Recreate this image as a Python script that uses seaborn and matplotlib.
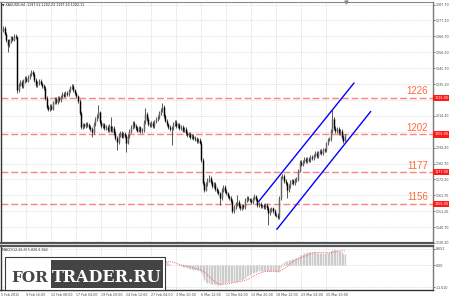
import numpy as np
import pandas as pd
import matplotlib
matplotlib.use("Agg")
import matplotlib.pyplot as plt
import matplotlib.transforms as mtransforms
from matplotlib.patches import Rectangle
import seaborn as sns

# ---------------- data ----------------
closes = [
    1271.0, 1272.0, 1268.5, 1264.0, 1261.0, 1263.5, 1266.0, 1264.5, 1267.0, 1266.0,
    1231.0, 1235.0, 1236.5, 1234.0, 1237.0, 1239.5, 1237.5, 1240.0, 1241.5, 1243.0,
    1242.0, 1238.0, 1234.5, 1236.0, 1237.0, 1235.5, 1234.0, 1232.5, 1226.0, 1220.0,
    1218.5, 1221.0, 1219.0, 1223.0, 1225.5, 1223.5, 1226.0, 1224.5, 1227.0, 1228.5,
    1227.5, 1229.5, 1228.5, 1231.0, 1233.0, 1234.0, 1231.0, 1229.0, 1227.0, 1224.0,
    1216.0, 1207.0, 1208.5, 1207.5, 1209.0, 1208.0, 1207.0, 1205.5, 1203.5, 1209.0,
    1212.0, 1214.0, 1216.5, 1210.0, 1207.5, 1208.5, 1206.0, 1207.0, 1205.0, 1207.5,
    1204.5, 1206.0, 1203.0, 1199.5, 1197.0, 1201.5, 1203.0, 1200.5, 1202.5, 1201.0,
    1196.5, 1201.0, 1204.0, 1207.0, 1209.5, 1207.5, 1206.0, 1204.5, 1206.5, 1204.0,
    1205.0, 1210.0, 1215.5, 1212.0, 1209.0, 1208.0, 1209.5, 1207.5, 1210.5, 1212.0,
    1213.5, 1216.0, 1218.0, 1220.0, 1214.0, 1211.0, 1208.5, 1207.0, 1205.5, 1206.0,
    1209.0, 1210.0, 1207.5, 1208.5, 1206.0, 1207.0, 1204.5, 1205.5, 1203.0, 1201.5,
    1202.0, 1200.0, 1201.0, 1199.5, 1199.0, 1197.5, 1198.5, 1196.5, 1185.0, 1170.0,
    1165.5, 1169.0, 1172.0, 1173.0, 1170.5, 1168.0, 1169.0, 1166.0, 1164.5, 1163.0,
    1160.0, 1165.0, 1167.0, 1164.5, 1163.0, 1161.0, 1160.0, 1158.0, 1151.5, 1154.0,
    1156.0, 1157.5, 1154.5, 1153.5, 1155.0, 1154.0, 1158.5, 1160.0, 1159.0, 1158.5,
    1157.0, 1159.5, 1161.0, 1159.0, 1155.5, 1156.0, 1154.5, 1155.0, 1154.0, 1155.5,
    1153.5, 1150.0, 1152.0, 1153.0, 1151.5, 1149.0, 1148.5, 1147.5, 1160.0, 1173.5,
    1174.5, 1171.0, 1169.5, 1165.0, 1168.0, 1170.5, 1171.5, 1170.0, 1172.0, 1172.5,
    1178.0, 1183.5, 1182.0, 1184.0, 1185.5, 1184.5, 1186.0, 1185.0, 1187.0, 1186.5,
    1188.0, 1189.5, 1187.5, 1190.0, 1191.0, 1189.5, 1192.0, 1191.5, 1196.0, 1198.5,
    1199.0, 1204.0, 1212.0, 1206.0, 1204.0, 1205.5, 1203.0, 1204.5, 1200.0, 1197.5,
    1202.11,
]
first_open = 1270.0
last_open = 1197.52
spike_high_bars = [0, 19, 45, 62, 70, 92, 103, 133, 142, 151, 162, 180, 212, 220]
spike_high_vals = [1273.5, 1244.5, 1235.5, 1221.5, 1213.5, 1219.5, 1222.8, 1175.0,
                   1168.8, 1162.2, 1162.5, 1176.0, 1218.2, 1202.23]
spike_low_bars = [4, 10, 58, 74, 80, 109, 130, 140, 171, 183, 220]
spike_low_vals = [1256.5, 1229.5, 1200.0, 1191.8, 1190.5, 1195.0, 1164.0, 1155.6,
                  1142.4, 1160.2, 1197.30]

levels = [1226, 1202, 1177, 1156]
upper_channel_bars = [164.7, 225.9]
upper_channel_prices = [1157.5, 1235.9]
lower_channel_bars = [176.4, 236.6]
lower_channel_prices = [1139.2, 1217.1]

price_ticks = [1287.7, 1277.2, 1266.7, 1256.2, 1245.7, 1235.2, 1224.7, 1214.2,
               1203.7, 1193.2, 1182.7, 1172.2, 1161.7, 1151.2, 1140.7, 1130.2]
hidden_price_labels = [1224.7, 1203.7]
date_tick_bars = [0, 16, 32, 48, 64, 80, 96, 112, 128, 144, 160, 176, 192, 208]
date_labels = ["5 Feb 2015", "9 Feb 16:00", "12 Feb 08:00", "17 Feb 04:00",
               "19 Feb 20:00", "24 Feb 12:00", "27 Feb 04:00", "3 Mar 20:00",
               "6 Mar 12:00", "11 Mar 04:00", "13 Mar 20:00", "18 Mar 12:00",
               "23 Mar 04:00", "25 Mar 20:00"]
macd_ticks = [8.652, 0.0, -11.61]
macd_tick_labels = ["8.652", "0.00", "-11.610"]
title_text = "\u25bc XAUUSD,H4  1197.52 1202.23 1197.30 1202.11"
macd_text = "MACD(12,26,9) 5.826 6.942"

# ---------------- build OHLC table ----------------
n = len(closes)
df = pd.DataFrame({"bar": np.arange(n), "close": closes})
df["open"] = df["close"].shift(1)
df.loc[0, "open"] = first_open
df.loc[n - 1, "open"] = last_open
wick = 1.2
df["high"] = df[["open", "close"]].max(axis=1) + wick
df["low"] = df[["open", "close"]].min(axis=1) - wick
df.loc[spike_high_bars, "high"] = spike_high_vals
df.loc[spike_low_bars, "low"] = spike_low_vals

ema12 = df["close"].ewm(span=12, adjust=False).mean()
ema26 = df["close"].ewm(span=26, adjust=False).mean()
df["macd"] = ema12 - ema26
df["signal"] = df["macd"].rolling(9).mean()

# ---------------- figure ----------------
sns.set_theme(style="white")
plt.rcParams["font.family"] = ["DejaVu Sans"]
W, H = 450, 300
fig = plt.figure(figsize=(4.5, 3), dpi=100)
fig.patch.set_facecolor("white")


def frect(x0, y0, x1, y1):
    return [x0 / W, 1 - y1 / H, (x1 - x0) / W, (y1 - y0) / H]


ax = fig.add_axes(frect(0.5, 1.5, 433, 243))
ax2 = fig.add_axes(frect(0.5, 246, 433, 290))
for a in (ax, ax2):
    a.set_facecolor("white")
    a.set_xlim(-0.64, 276.5)

ax.set_ylim(1130.4, 1289.7)
ax2.set_ylim(-13.19, 10.03)

grid_kw = dict(color="#c4c4c4", lw=0.5, ls=(0, (1, 1.6)))
tick_kw = dict(length=1.3, width=0.5, pad=0.6, labelsize=2.3, colors="#444444",
               direction="out")
ax.set_xticks(date_tick_bars)
ax.set_xticklabels([])
ax.set_yticks(price_ticks)
ax.set_yticklabels(["" if t in hidden_price_labels else f"{t:.2f}" for t in price_ticks])
ax.yaxis.tick_right()
ax.grid(True, **grid_kw)
ax.tick_params(axis="x", length=0)
ax.tick_params(axis="y", **tick_kw)

ax2.set_xticks(date_tick_bars)
ax2.set_xticklabels(date_labels, ha="left")
ax2.set_yticks(macd_ticks)
ax2.set_yticklabels(macd_tick_labels)
ax2.yaxis.tick_right()
ax2.grid(True, **grid_kw)
ax2.tick_params(axis="x", **tick_kw)
ax2.tick_params(axis="y", **tick_kw)

for a in (ax, ax2):
    a.spines["left"].set_color("#333333")
    a.spines["left"].set_linewidth(1.0)
    a.spines["right"].set_color("#7a7a7a")
    a.spines["right"].set_linewidth(1.0)
ax.spines["top"].set_color("#8a8a8a")
ax.spines["top"].set_linewidth(0.8)
ax.spines["bottom"].set_color("#555555")
ax.spines["bottom"].set_linewidth(1.6)
ax2.spines["top"].set_color("#555555")
ax2.spines["top"].set_linewidth(1.6)
ax2.spines["bottom"].set_color("#333333")
ax2.spines["bottom"].set_linewidth(1.0)

# levels
trans = mtransforms.blended_transform_factory(ax.transAxes, ax.transData)
for lv in levels:
    ax.axhline(lv, color="#ff8282", lw=1.0, ls=(0, (5, 2)), zorder=2)
    ax.text((428 - 0.5) / 432.5, lv + 1.0, f"{lv}", transform=trans, ha="right",
            va="bottom", fontsize=7, color="#ff6a3a",
            family=["Liberation Sans Narrow", "Liberation Sans"], zorder=5)
    ax.text(1.0 + 1.2 / 432.5, lv, f"{lv:.2f}", transform=trans, ha="left",
            va="center", fontsize=2.4, color="white", clip_on=False, zorder=6,
            bbox=dict(boxstyle="square,pad=0.4", fc="#ff1a1a", ec="none"))

# candles
x = df["bar"].to_numpy()
o = df["open"].to_numpy()
c = df["close"].to_numpy()
ax.vlines(x, df["low"], df["high"], color="#3c3c3c", lw=0.6, zorder=3)
bear = c < o
ax.vlines(x[bear], c[bear], o[bear], color="#000000", lw=1.05, zorder=4)
ax.vlines(x[~bear], o[~bear], c[~bear], color="#666666", lw=1.05, zorder=4)

# channel
sns.lineplot(x=upper_channel_bars, y=upper_channel_prices, ax=ax, color="#0000ff",
             lw=1.0, zorder=5)
sns.lineplot(x=lower_channel_bars, y=lower_channel_prices, ax=ax, color="#0000ff",
             lw=1.0, zorder=5)
ax.set_xlabel("")
ax.set_ylabel("")

# shift marker
ax.plot([221], [1289.7], marker="v", ms=2.2, color="#8a8a8a", clip_on=False,
        zorder=6, lw=0)

# MACD
ax2.vlines(x, 0, df["macd"], color="#cccccc", lw=1.0, zorder=3)
sns.lineplot(data=df, x="bar", y="signal", ax=ax2, color="#ff4040", lw=0.6,
             linestyle=(0, (1, 1.3)), zorder=4)
ax2.set_xlabel("")
ax2.set_ylabel("")
ax2.set_xlim(-0.64, 276.5)

# texts
fig.text(2 / W, 1 - 5 / H, title_text, fontsize=2.3, color="#222222",
         ha="left", va="center")
fig.text(2 / W, 1 - 250 / H, macd_text, fontsize=2.3, color="#222222",
         ha="left", va="center")

# watermark
fig.add_artist(Rectangle((5 / W, 1 - 290 / H), 160 / W, 33 / H,
                         transform=fig.transFigure, fc="white", ec="#3a3a3a",
                         lw=0.8, zorder=10))
fig.add_artist(Rectangle((50.7 / W, 1 - 288.3 / H), 112.6 / W, 28.3 / H,
                         transform=fig.transFigure, fc="#444444", ec="none",
                         zorder=11))
fig.text(29.5 / W, 1 - 281.7 / H, "FOR", fontsize=11, family="DejaVu Serif",
         weight="bold", color="#444444", ha="center", va="baseline", zorder=12)
fig.text(107 / W, 1 - 281.7 / H, "TRADER.RU", fontsize=11.5, family="DejaVu Serif",
         weight="bold", color="white", ha="center", va="baseline", zorder=12)

fig.savefig("out.png", dpi=100, facecolor="white")
